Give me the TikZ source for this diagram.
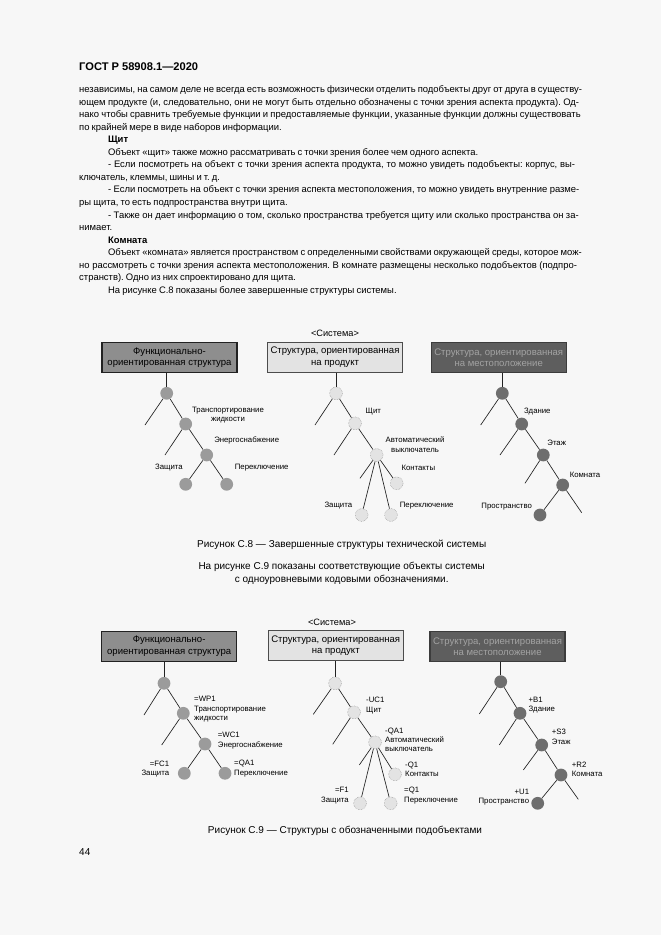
\documentclass[tikz,border=0pt]{standalone}
\usepackage{fontspec}
\setmainfont{Liberation Sans}
\definecolor{paper}{HTML}{F7F7F7}
\definecolor{ink}{HTML}{222222}
\definecolor{funcfill}{HTML}{8E8E8E}
\definecolor{prodfill}{HTML}{E3E3E3}
\definecolor{locfill}{HTML}{5E5E5E}
\definecolor{locedge}{HTML}{3C3C3C}
\definecolor{loctext}{HTML}{A3A3A3}
\definecolor{funcdot}{HTML}{9B9B9B}
\definecolor{locdot}{HTML}{6E6E6E}

\begin{document}
\begin{tikzpicture}[x=0.9pt, y=-0.9pt,
  box/.style={minimum width=121.5pt, minimum height=27pt, inner sep=1pt, align=center,
    font=\fontsize{8.6}{10.4}\selectfont, line width=1.1pt},
  fbox/.style={box, fill=funcfill, draw=ink},
  pbox/.style={box, fill=prodfill, draw=black!70},
  lbox/.style={box, fill=locfill, draw=locedge, text=loctext},
  fdot/.style={circle, fill=funcdot, inner sep=0pt, minimum size=11.5pt},
  pdot/.style={circle, draw=gray, densely dotted, fill=gray!22, inner sep=0pt, minimum size=11.5pt},
  ldot/.style={circle, fill=locdot, inner sep=0pt, minimum size=11.5pt},
  edge/.style={draw=ink, line width=0.6pt},
  lbl/.style={font=\fontsize{7}{8.3}\selectfont, inner sep=0pt},
  sys/.style={font=\fontsize{8.3}{9}\selectfont, inner sep=0pt},
  figcap/.style={font=\fontsize{9}{11.3}\selectfont, inner sep=0pt, align=center}]
  \fill[paper] (0,0) rectangle (661,935);
  \useasboundingbox (0,0) rectangle (661,935);

  % page text
  \node[anchor=west, font=\fontsize{10}{12}\selectfont\bfseries, inner sep=0pt] (head) at (79,67) {ГОСТ Р 58908.1—2020};
  \node[anchor=north west, inner sep=0pt, text width=452.7pt, font=\fontsize{8.5}{11.3}\selectfont] (body) at (79,85.3) {%
    \setlength{\parindent}{26pt}\setlength{\parskip}{0pt}\frenchspacing
    \spaceskip=0.22em plus 0.2em minus 0.08em
    \noindent независимы, на самом деле не всегда есть возможность физически отделить подобъекты друг от друга в существу-\linebreak
    ющем продукте (и, следовательно, они не могут быть отдельно обозначены с точки зрения аспекта продукта). Од-\linebreak
    нако чтобы сравнить требуемые функции и предоставляемые функции, указанные функции должны существовать\linebreak
    по крайней мере в виде наборов информации.\par
    \textbf{Щит}\par
    Объект «щит» также можно рассматривать с точки зрения более чем одного аспекта.\par
    - Если посмотреть на объект с точки зрения аспекта продукта, то можно увидеть подобъекты: корпус, вы-\linebreak
    ключатель, клеммы, шины и т. д.\par
    - Если посмотреть на объект с точки зрения аспекта местоположения, то можно увидеть внутренние разме-\linebreak
    ры щита, то есть подпространства внутри щита.\par
    - Также он дает информацию о том, сколько пространства требуется щиту или сколько пространства он за-\linebreak
    нимает.\par
    \textbf{Комната}\par
    Объект «комната» является пространством с определенными свойствами окружающей среды, которое мож-\linebreak
    но рассмотреть с точки зрения аспекта местоположения. В комнате размещены несколько подобъектов (подпро-\linebreak
    странств). Одно из них спроектировано для щита.\par
    На рисунке С.8 показаны более завершенные структуры системы.\par};

  % figure C.8
  \node[sys] (sysA) at (335,333) {<Система>};
  \node[fbox] (funcA) at (169.5,357.5) {Функционально-\\ориентированная структура};
  \node[pbox] (prodA) at (335,357.3) {Структура, ориентированная\\на продукт};
  \node[lbox] (locA) at (498.7,357.7) {Структура, ориентированная\\на местоположение};

  \node[fdot] (fa1) at (166.7,393.3) {};
  \node[fdot] (fa2) at (185.7,424) {};
  \node[fdot] (fa3) at (206.7,455) {};
  \node[fdot] (fa4) at (185.7,484.3) {};
  \node[fdot] (fa5) at (226.7,484.3) {};
  \coordinate (fae1) at (145,425);
  \coordinate (fae2) at (165,455);
  \draw[edge] (funcA.south -| fa1) -- (fa1);
  \draw[edge] (fa1) -- (fae1) (fa1) -- (fa2) (fa2) -- (fae2) (fa2) -- (fa3)
    (fa3) -- (fa4) (fa3) -- (fa5);
  \node[lbl, align=center] (faT) at (228,415.3) {Транспортирование\\жидкости};
  \node[lbl] (faE) at (246.7,440.7) {Энергоснабжение};
  \node[lbl] (faZ) at (169,467.7) {Защита};
  \node[lbl] (faP) at (261.7,467.7) {Переключение};

  \node[pdot] (pa1) at (336,393.3) {};
  \node[pdot] (pa2) at (355,423.3) {};
  \node[pdot] (pa3) at (376.7,455) {};
  \node[pdot] (pa4) at (396.7,483.3) {};
  \node[pdot] (pa5) at (361.7,515) {};
  \node[pdot] (pa6) at (391,515) {};
  \coordinate (pae1) at (315,425);
  \coordinate (pae2) at (334,455);
  \coordinate (pae3) at (360,478.3);
  \draw[edge] (prodA.south -| pa1) -- (pa1);
  \draw[edge] (pa1) -- (pae1) (pa1) -- (pa2) (pa2) -- (pae2) (pa2) -- (pa3)
    (pa3) -- (pae3) (pa3) -- (pa4) (pa3) -- (pa5) (pa3) -- (pa6);
  \node[lbl] (paS) at (373.3,411.7) {Щит};
  \node[lbl, align=center] (paA) at (415,444.7) {Автоматический\\выключатель};
  \node[lbl] (paK) at (418.3,468.3) {Контакты};
  \node[lbl] (paZ) at (338.3,505.7) {Защита};
  \node[lbl] (paP) at (426.7,505.7) {Переключение};

  \node[ldot] (la1) at (502.3,393.3) {};
  \node[ldot] (la2) at (521.7,424) {};
  \node[ldot] (la3) at (543.3,455) {};
  \node[ldot] (la4) at (562.7,485) {};
  \node[ldot] (la5) at (540,515) {};
  \coordinate (lae1) at (480.7,425);
  \coordinate (lae2) at (500,455);
  \coordinate (lae3) at (525,483.3);
  \coordinate (lae4) at (581.7,512.7);
  \draw[edge] (locA.south -| la1) -- (la1);
  \draw[edge] (la1) -- (lae1) (la1) -- (la2) (la2) -- (lae2) (la2) -- (la3)
    (la3) -- (lae3) (la3) -- (la4) (la4) -- (la5) (la4) -- (lae4);
  \node[lbl] (laZ) at (537.3,411.7) {Здание};
  \node[lbl] (laE) at (556.7,443.3) {Этаж};
  \node[lbl] (laK) at (585,475) {Комната};
  \node[lbl] (laP) at (506.7,506.7) {Пространство};

  \node[figcap] (capA) at (341.7,545) {Рисунок С.8 — Завершенные структуры технической системы};
  \node[figcap] (mid) at (341.7,573.5) {На рисунке С.9 показаны соответствующие объекты системы\\с одноуровневыми кодовыми обозначениями.};

  % figure C.9
  \node[sys] (sysB) at (332,622) {<Система>};
  \node[fbox] (funcB) at (169.2,646.2) {Функционально-\\ориентированная структура};
  \node[pbox] (prodB) at (335.7,645.5) {Структура, ориентированная\\на продукт};
  \node[lbox] (locB) at (497.5,646.7) {Структура, ориентированная\\на местоположение};

  \node[fdot] (fb1) at (164,683.3) {};
  \node[fdot] (fb2) at (183.3,713.3) {};
  \node[fdot] (fb3) at (205,744) {};
  \node[fdot] (fb4) at (184.3,773.3) {};
  \node[fdot] (fb5) at (225,773.3) {};
  \coordinate (fbe1) at (144,715);
  \coordinate (fbe2) at (161.7,745);
  \draw[edge] (funcB.south -| fb1) -- (fb1);
  \draw[edge] (fb1) -- (fbe1) (fb1) -- (fb2) (fb2) -- (fbe2) (fb2) -- (fb3)
    (fb3) -- (fb4) (fb3) -- (fb5);
  \node[lbl, align=left, anchor=west] (fbT) at (194,709.2) {=WP1\\Транспортирование\\жидкости};
  \node[lbl, align=left, anchor=west] (fbE) at (217.7,740.5) {=WC1\\Энергоснабжение};
  \node[lbl, align=right, anchor=east] (fbZ) at (169.3,768.7) {=FC1\\Защита};
  \node[lbl, align=left, anchor=west] (fbP) at (234,768.5) {=QA1\\Переключение};

  \node[pdot] (pb1) at (335,683.3) {};
  \node[pdot] (pb2) at (354,712.3) {};
  \node[pdot] (pb3) at (375,742.3) {};
  \node[pdot] (pb4) at (395,774.3) {};
  \node[pdot] (pb5) at (360,803.3) {};
  \node[pdot] (pb6) at (390.7,803.3) {};
  \coordinate (pbe1) at (313.3,714.3);
  \coordinate (pbe2) at (332.7,744.3);
  \coordinate (pbe3) at (359.3,765);
  \draw[edge] (prodB.south -| pb1) -- (pb1);
  \draw[edge] (pb1) -- (pbe1) (pb1) -- (pb2) (pb2) -- (pbe2) (pb2) -- (pb3)
    (pb3) -- (pbe3) (pb3) -- (pb4) (pb3) -- (pb5) (pb3) -- (pb6);
  \node[lbl, align=left, anchor=west] (pbS) at (366,705.5) {-UC1\\Щит};
  \node[lbl, align=left, anchor=west] (pbA) at (385,739.8) {-QA1\\Автоматический\\выключатель};
  \node[lbl, align=left, anchor=west] (pbK) at (405,769.2) {-Q1\\Контакты};
  \node[lbl, align=right, anchor=east] (pbZ) at (349,795.5) {=F1\\Защита};
  \node[lbl, align=left, anchor=west] (pbP) at (404,795.5) {=Q1\\Переключение};

  \node[ldot] (lb1) at (500.7,681.7) {};
  \node[ldot] (lb2) at (520,713.3) {};
  \node[ldot] (lb3) at (541.7,745) {};
  \node[ldot] (lb4) at (561,775) {};
  \node[ldot] (lb5) at (537.7,803.3) {};
  \coordinate (lbe1) at (479.3,714);
  \coordinate (lbe2) at (499.3,745);
  \coordinate (lbe3) at (523.3,770);
  \coordinate (lbe4) at (578.3,799.3);
  \draw[edge] (locB.south -| lb1) -- (lb1);
  \draw[edge] (lb1) -- (lbe1) (lb1) -- (lb2) (lb2) -- (lbe2) (lb2) -- (lb3)
    (lb3) -- (lbe3) (lb3) -- (lb4) (lb4) -- (lb5) (lb4) -- (lbe4);
  \node[lbl, align=left, anchor=west] (lbZ) at (528.3,705) {+B1\\Здание};
  \node[lbl, align=left, anchor=west] (lbE) at (551.7,736.8) {+S3\\Этаж};
  \node[lbl, align=left, anchor=west] (lbK) at (571.7,769.6) {+R2\\Комната};
  \node[lbl, align=right, anchor=east] (lbP) at (529.3,797.2) {+U1\\Пространство};

  \node[figcap] (capB) at (345,831) {Рисунок С.9 — Структуры с обозначенными подобъектами};
  \node[anchor=west, font=\fontsize{9}{11}\selectfont, inner sep=0pt] (pageno) at (79,852) {44};
\end{tikzpicture}
\end{document}
